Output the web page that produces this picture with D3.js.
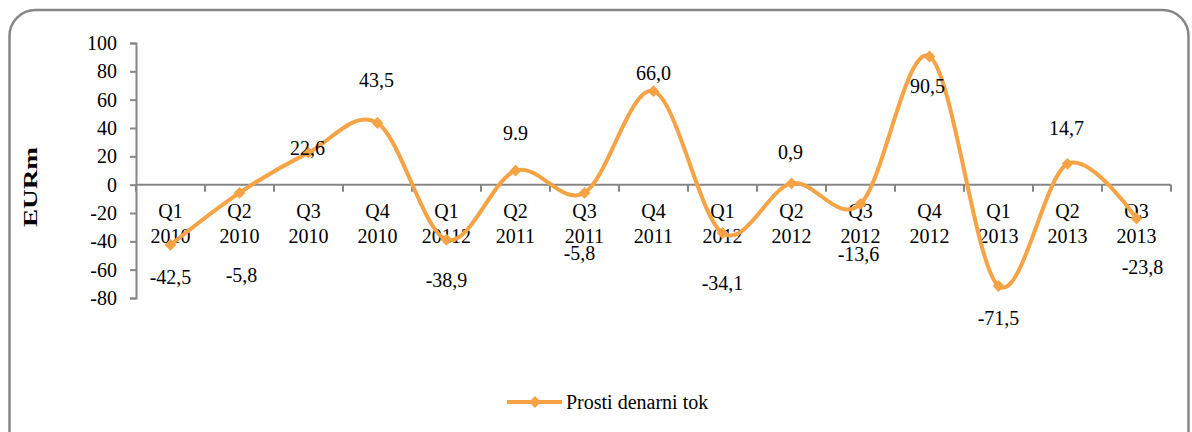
<!DOCTYPE html>
<html>
<head>
<meta charset="utf-8">
<script src="https://cdn.jsdelivr.net/npm/d3@7"></script>
<style>
  body { margin: 0; background: #fff; }
  svg { display: block; }
  text { font-family: "Liberation Serif", "Times New Roman", serif; }
</style>
</head>
<body>
<svg id="drawing_region"></svg>
<script>
// quarters and years shown under the zero line (the "20112" typo is in the original)
const quarters = ["Q1","Q2","Q3","Q4","Q1","Q2","Q3","Q4","Q1","Q2","Q3","Q4","Q1","Q2","Q3"];
const years = ["2010","2010","2010","2010","20112","2011","2011","2011","2012","2012","2012","2012","2013","2013","2013"];
const values = [-42.5, -5.8, 22.6, 43.5, -38.9, 9.9, -5.8, 66.0, -34.1, 0.9, -13.6, 90.5, -71.5, 14.7, -23.8];
const valueLabels = ["-42,5","-5,8","22,6","43,5","-38,9","9.9","-5,8","66,0","-34,1","0,9","-13,6","90,5","-71,5","14,7","-23,8"];
const yTicks = [-80, -60, -40, -20, 0, 20, 40, 60, 80, 100];
const seriesName = "Prosti denarni tok";

// where each value label sits relative to its point, in pixels
const labelShift = [
    [0, 32], [2, 82], [-1, -5], [-1, -43], [0, 40], [0, -38], [-5, 60], [0, -18],
    [0, 50], [-1, -31], [-2, 50], [-2, 30], [0, 32], [-1, -36], [6, 49]
];

const width = 1192, height = 432;
const orange = "#f5a344", grey = "#868686";
const serif = '"Liberation Serif", "Times New Roman", serif';

const svg = d3.select("#drawing_region")
    .attr("width", width)
    .attr("height", height);

// rounded chart frame
svg.append("rect")
    .attr("x", 9.5).attr("y", 10)
    .attr("width", 1179).attr("height", 450)
    .attr("rx", 26).attr("ry", 26)
    .attr("fill", "none")
    .attr("stroke", grey)
    .attr("stroke-width", 2.5);

const cats = quarters.map((q, i) => i);
const xscale = d3.scaleBand().domain(cats).range([136, 1171]).padding(0);
const yscale = d3.scaleLinear().domain([-80, 100]).range([298, 43]);
const cx = i => xscale(i) + xscale.bandwidth() / 2;

// y axis
const yaxis = d3.axisLeft(yscale).tickValues(yTicks).tickSize(6).tickFormat(d => String(d));
const yg = svg.append("g").attr("transform", "translate(136,0)").call(yaxis)
    .attr("font-family", serif).attr("font-size", 20);
yg.selectAll("path, line").attr("stroke", grey).attr("stroke-width", 2);
yg.selectAll("text")
    .attr("x", -19)
    .attr("fill", "#000");

// zero line with category ticks between bands
const y0 = yscale(0);
svg.append("line")
    .attr("x1", 136).attr("x2", 1171)
    .attr("y1", y0).attr("y2", y0)
    .attr("stroke", grey).attr("stroke-width", 2);
svg.selectAll(".xtick")
    .data(cats.concat([cats.length]))
    .enter().append("line")
    .attr("class", "xtick")
    .attr("x1", i => i < cats.length ? xscale(i) : xscale.range()[1])
    .attr("x2", i => i < cats.length ? xscale(i) : xscale.range()[1])
    .attr("y1", y0).attr("y2", y0 + 7)
    .attr("stroke", grey).attr("stroke-width", 2);

// category labels (two lines)
const catText = svg.selectAll(".cat")
    .data(cats)
    .enter().append("text")
    .attr("class", "cat")
    .attr("text-anchor", "middle")
    .attr("font-size", 20);
catText.append("tspan").attr("x", cx).attr("y", 218).text(i => quarters[i]);
catText.append("tspan").attr("x", cx).attr("y", 243).text(i => years[i]);

// y title
svg.append("text")
    .attr("transform", "translate(37,187) rotate(-90)")
    .attr("text-anchor", "middle")
    .attr("font-size", 18)
    .attr("font-weight", "bold")
    .attr("textLength", 80)
    .attr("lengthAdjust", "spacingAndGlyphs")
    .text("EURm");

// smoothed line
const line = d3.line()
    .x((d, i) => cx(i))
    .y(d => yscale(d))
    .curve(d3.curveCatmullRom.alpha(0));

svg.append("path")
    .datum(values)
    .attr("d", line)
    .attr("fill", "none")
    .attr("stroke", orange)
    .attr("stroke-width", 4)
    .attr("stroke-linejoin", "round");

const diamond = d3.symbol().type(d3.symbolDiamond2).size(90);
svg.selectAll(".mark")
    .data(values)
    .enter().append("path")
    .attr("class", "mark")
    .attr("d", diamond)
    .attr("transform", (d, i) => `translate(${cx(i)},${yscale(d)})`)
    .attr("fill", orange);

// value labels
svg.selectAll(".val")
    .data(values)
    .enter().append("text")
    .attr("class", "val")
    .attr("text-anchor", "middle")
    .attr("dominant-baseline", "central")
    .attr("x", (d, i) => cx(i) + labelShift[i][0])
    .attr("y", (d, i) => yscale(d) + labelShift[i][1])
    .attr("font-size", 20)
    .text((d, i) => valueLabels[i]);

// legend
const lg = svg.append("g").attr("transform", "translate(507,402)");
lg.append("line").attr("x1", 0).attr("x2", 55).attr("y1", 0).attr("y2", 0)
    .attr("stroke", orange).attr("stroke-width", 4);
lg.append("path").attr("d", diamond).attr("transform", "translate(28,0)").attr("fill", orange);
lg.append("text").attr("x", 59).attr("y", 7)
    .attr("font-size", 20)
    .text(seriesName);
</script>
</body>
</html>
